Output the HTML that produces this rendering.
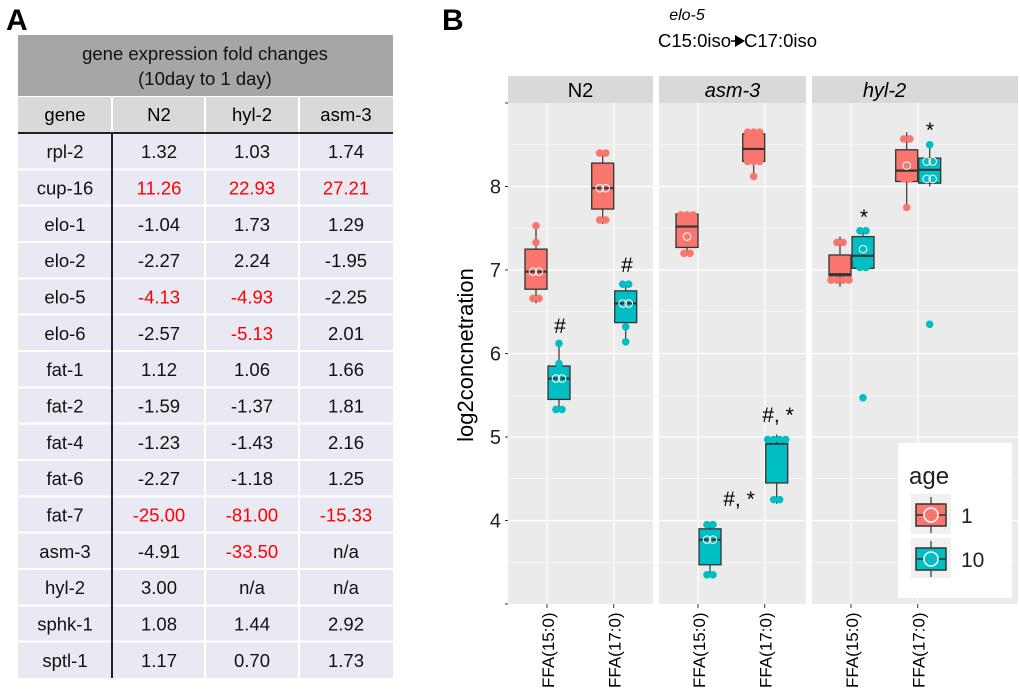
<!DOCTYPE html>
<html><head><meta charset="utf-8"><style>
body{margin:0;background:#fff;width:1020px;height:692px;overflow:hidden;font-family:"Liberation Sans",sans-serif}
svg{position:absolute;left:0;top:0}
</style></head><body>
<svg id="s" width="1020" height="692" xmlns="http://www.w3.org/2000/svg" font-family="Liberation Sans, sans-serif"></svg>
<script>
var o='';
function R(x,y,w,h,f,e){o+='<rect x="'+x+'" y="'+y+'" width="'+w+'" height="'+h+'" fill="'+f+'" '+(e||'')+'/>';}
function T(x,y,t,s,e){o+='<text x="'+x+'" y="'+y+'" font-size="'+s+'" '+(e||'')+'>'+t+'</text>';}
function L(a,b,c,d,st,w){o+='<line x1="'+a+'" y1="'+b+'" x2="'+c+'" y2="'+d+'" stroke="'+st+'" stroke-width="'+w+'"/>';}
// Panel A
T(6,30,'A',30,'font-weight="bold"');
R(18,35,375,61,'#a6a6a6');
T(205,60,'gene expression fold changes',18.5,'text-anchor="middle" fill="#111"');
T(205,85,'(10day to 1 day)',18.5,'text-anchor="middle" fill="#111"');
R(18,97,375,35,'#d9d9d9');
var cx=[65,159,252,346];
['gene','N2','hyl-2','asm-3'].forEach(function(t,i){T(cx[i],121,t,18.5,'text-anchor="middle"');});
[112,205,299].forEach(function(x){L(x,97,x,132,'#fff',2);});
var rows=[['rpl-2','1.32','1.03','1.74'],['cup-16','11.26*','22.93*','27.21*'],['elo-1','-1.04','1.73','1.29'],['elo-2','-2.27','2.24','-1.95'],['elo-5','-4.13*','-4.93*','-2.25'],['elo-6','-2.57','-5.13*','2.01'],['fat-1','1.12','1.06','1.66'],['fat-2','-1.59','-1.37','1.81'],['fat-4','-1.23','-1.43','2.16'],['fat-6','-2.27','-1.18','1.25'],['fat-7','-25.00*','-81.00*','-15.33*'],['asm-3','-4.91','-33.50*','n/a'],['hyl-2','3.00','n/a','n/a'],['sphk-1','1.08','1.44','2.92'],['sptl-1','1.17','0.70','1.73']];
var rh=(678-133)/15;
rows.forEach(function(r,i){var y=133+i*rh;R(18,y,375,rh,'#e9e9f3');L(18,y,393,y,'#fff',2);
r.forEach(function(t,j){var red=t.indexOf('*')>=0;T(cx[j],y+rh/2+7,t.replace('*',''),18.5,'text-anchor="middle" fill="'+(red?'#f00':'#111')+'"');});});
[205,299].forEach(function(x){L(x,133,x,678,'#fff',2);});
L(18,133,393,133,'#222',2);L(112,133,112,678,'#222',2);
// Panel B
T(442,30,'B',30,'font-weight="bold"');
T(687,20,'elo-5',16,'font-style="italic" text-anchor="middle"');
T(658,47,'C15:0iso',18.5);T(744,47,'C17:0iso',18.5);
L(731,41,737,41,'#000',1.5);o+='<polygon points="735,35 745,41 735,47" fill="#000"/>';
function Y(v){return 604-(v-3)*83.5;}
var panels=[[508,653,'N2',''],[659,806,'asm-3','italic'],[812,1018,'hyl-2','italic']];
panels.forEach(function(p){var w=p[1]-p[0];R(p[0],76,w,27,'#d9d9d9');T((p[0]+(p[2]=='hyl-2'?p[0]+145:p[1]))/2,97,p[2],20,'text-anchor="middle" font-style="'+(p[3]||'normal')+'"');
R(p[0],103,w,501,'#ebebeb');
for(var v=3.5;v<9;v+=0.5){var y=Y(v);L(p[0],y,p[1],y,'#fff',(v%1==0)?1.2:0.6);}
var c1=p[0]+39,c2=c1+66.7;[c1,c2].forEach(function(c){L(c,103,c,604,'#fff',1.2);
o+='<text transform="translate('+(c+7)+',688) rotate(-90)" font-size="17">'+(c==c1?'FFA(15:0)':'FFA(17:0)')+'</text>';L(c,604,c,608,'#333',1);});
p.c=[c1,c2];});
[9,8,7,6,5,4,3].forEach(function(v){L(505,Y(v),508,Y(v),'#333',1);if(v>3&&v<9)T(501,Y(v)+7,v,20,'text-anchor="end" fill="#222"');});
o+='<text transform="translate(473,355) rotate(-90)" font-size="22" text-anchor="middle">log2concnetration</text>';
var RED='#f8766d',TEAL='#00bfc4';
var B=[[0,0,0,6.6,6.77,6.98,7.25,7.55,[[0,7.53],[0,7.33],[-3,6.98,1],[3,6.98,1],[-3,6.66],[3,6.66]]],
[0,0,1,5.3,5.45,5.7,5.85,6.1,[[0,6.12],[0,5.88],[-3,5.7,1],[3,5.7,1],[-3,5.33],[3,5.33]]],
[0,1,0,7.55,7.73,7.98,8.28,8.42,[[-3,8.4],[3,8.4],[-3,7.98,1],[3,7.98,1],[-3,7.6],[3,7.6]]],
[0,1,1,6.13,6.37,6.6,6.75,6.85,[[-3,6.83],[3,6.83],[-3,6.6,1],[3,6.6,1],[0,6.32],[0,6.14]]],
[1,0,0,7.2,7.27,7.52,7.67,7.68,[[-6,7.66],[0,7.66],[6,7.66],[0,7.4,1],[-3,7.2],[3,7.2]]],
[1,1,0,8.1,8.3,8.45,8.63,8.68,[[-6,8.65],[0,8.65],[6,8.65],[-6,8.3],[0,8.3],[6,8.3],[0,8.12]]],
[1,0,1,3.35,3.47,3.77,3.9,3.97,[[-3,3.95],[3,3.95],[-3,3.77,1],[3,3.77,1],[-3,3.35],[3,3.35]]],
[1,1,1,4.2,4.45,4.92,4.92,5.03,[[-9,4.97],[-3,4.97],[3,4.97],[9,4.97],[-3,4.25],[3,4.25]]],
[2,0,0,6.8,6.93,6.95,7.18,7.4,[[-3,7.33],[3,7.33],[-9,6.88],[-3,6.88],[3,6.88],[9,6.88]]],
[2,0,1,7.0,7.02,7.17,7.4,7.47,[[-3,7.47],[3,7.47],[0,7.25,1],[-3,7.03],[3,7.03],[0,5.47]]],
[2,1,0,7.75,8.06,8.19,8.44,8.65,[[-3,8.57],[3,8.57],[0,8.25,1],[-3,8.09],[3,8.09],[0,7.75]]],
[2,1,1,8.0,8.04,8.2,8.34,8.5,[[0,8.5],[-3,8.3,1],[3,8.3,1],[-3,8.09,1],[3,8.09,1],[0,6.35]]]];
B.forEach(function(b){var c=panels[b[0]].c[b[1]]+(b[2]?12:-11),col=b[2]?TEAL:RED;
L(c,Y(b[3]),c,Y(b[7]),'#333',1.2);R(c-11,Y(b[6]),22,Y(b[4])-Y(b[6]),col,'stroke="#333" stroke-width="1.3"');
L(c-11,Y(b[5]),c+11,Y(b[5]),'#333',2.2);
b[8].forEach(function(p){if(p[2])o+='<circle cx="'+(c+p[0])+'" cy="'+Y(p[1])+'" r="3.8" fill="none" stroke="#fff" stroke-width="1"/>';else o+='<circle cx="'+(c+p[0])+'" cy="'+Y(p[1])+'" r="3.8" fill="'+col+'"/>';});});
var A=[[560,333,'#'],[627,272,'#'],[739,506,'#, *'],[778,422,'#, *'],[864,224,'*'],[930,137,'*']];
A.forEach(function(a){T(a[0],a[1],a[2],21,'text-anchor="middle"');});
// legend
R(898,443,114,155,'#fff');T(909,484,'age',24,'fill="#222"');
R(911,494,40,40,'#f0f0f0');R(911,538,40,40,'#f0f0f0');
[[515,RED,'1'],[559,TEAL,'10']].forEach(function(l){var cx=931,cy=l[0];L(cx,cy-18,cx,cy+18,'#333',1.2);R(cx-15,cy-11,30,22,l[1],'stroke="#333" stroke-width="1.5"');L(cx-15,cy,cx+15,cy,'#333',1.5);
o+='<circle cx="'+cx+'" cy="'+cy+'" r="7" fill="'+l[1]+'" stroke="#fff" stroke-width="1.5"/>';T(961,cy+8,l[2],21,'fill="#222"');});
document.getElementById('s').innerHTML=o;
</script>
</body></html>
